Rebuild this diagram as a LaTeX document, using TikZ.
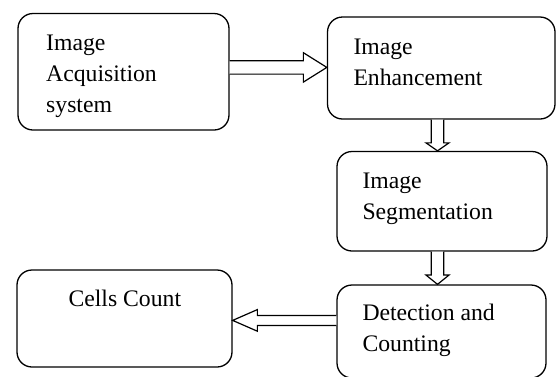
\documentclass[tikz,border=0pt]{standalone}
\usepackage{fontspec}
\setmainfont{Liberation Serif}
\usetikzlibrary{calc}
\tikzset{
  box/.style={draw=black, line width=1.3pt, rounded corners=15pt, minimum width=#1, inner sep=0pt},
  lbl/.style={anchor=base west, inner sep=0pt, font=\fontsize{23.7}{31}\selectfont},
  arr/.style={draw=black, line width=1.2pt, line join=miter, fill=white}
}
\newcommand{\lines}[1]{\begin{tabular}[t]{@{}l@{}}#1\end{tabular}}
\begin{document}
\begin{tikzpicture}[x=1pt,y=-1pt]
\useasboundingbox (0,0) rectangle (557,376);
% boxes
\node[box=211pt, minimum height=116.5pt] (b1) at (123.5,71.75) {};
\node[box=227.5pt, minimum height=102pt] (b2) at (441.25,68) {};
\node[box=210pt, minimum height=99.5pt] (b3) at (442,201.25) {};
\node[box=209pt, minimum height=93pt] (b4) at (441.5,331.5) {};
\node[box=215pt, minimum height=97pt] (b5) at (124.5,318.5) {};
% texts
\node[lbl] (t1) at (46,50) {\lines{Image\\Acquisition\\system}};
\node[lbl] (t2) at (353.3,54) {\lines{Image\\Enhancement}};
\node[lbl] (t3) at (362.3,188) {\lines{Image\\Segmentation}};
\node[lbl] (t4) at (362.3,320.7) {\lines{Detection and\\Counting}};
\node[lbl] (t5) at (68.3,306.7) {Cells Count};
% arrow 1: b1 -> b2
\coordinate (a1s) at (b1.east |- 0,67.4);
\coordinate (a1t) at (b2.west |- 0,67.4);
\draw[arr] ($(a1s)+(0,-6.7)$) -- ($(a1t)+(-23.5,-6.7)$) -- ($(a1t)+(-23.5,-14.7)$) -- (a1t)
  -- ($(a1t)+(-23.5,14.7)$) -- ($(a1t)+(-23.5,6.7)$) -- ($(a1s)+(0,6.7)$);
% arrow 2: b2 -> b3
\coordinate (a2s) at (b2.south -| 437.5,0);
\coordinate (a2t) at (b3.north -| 437.5,0);
\draw[arr] ($(a2s)+(-6.2,0)$) -- ($(a2t)+(-6.2,-8)$) -- ($(a2t)+(-11.5,-8)$) -- (a2t)
  -- ($(a2t)+(11.5,-8)$) -- ($(a2t)+(6.2,-8)$) -- ($(a2s)+(6.2,0)$);
% arrow 3: b3 -> b4
\coordinate (a3s) at (b3.south -| 437.5,0);
\coordinate (a3t) at (b4.north -| 437.5,0);
\draw[arr] ($(a3s)+(-6.2,0)$) -- ($(a3t)+(-6.2,-9.3)$) -- ($(a3t)+(-11.5,-9.3)$) -- (a3t)
  -- ($(a3t)+(11.5,-9.3)$) -- ($(a3t)+(6.2,-9.3)$) -- ($(a3s)+(6.2,0)$);
% arrow 4: b4 -> b5
\coordinate (a4s) at (b4.west |- 0,320.4);
\coordinate (a4t) at (b5.east |- 0,320.4);
\draw[arr] ($(a4s)+(0,-5)$) -- ($(a4t)+(24.7,-5)$) -- ($(a4t)+(24.7,-10.8)$) -- (a4t)
  -- ($(a4t)+(24.7,10.8)$) -- ($(a4t)+(24.7,5)$) -- ($(a4s)+(0,5)$);
\end{tikzpicture}
\end{document}
